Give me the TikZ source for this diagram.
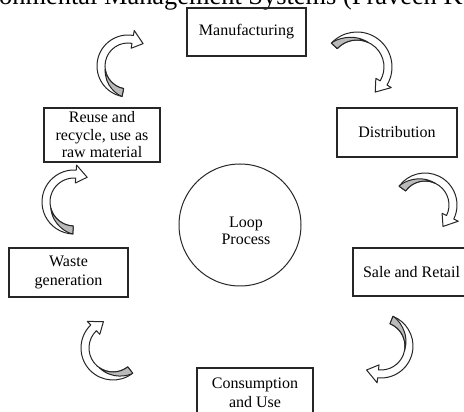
\documentclass[tikz,border=0pt]{standalone}
\usepackage{fontspec}
\setmainfont{Liberation Serif}

% curved ribbon arrow: centre, radius, tail angle, end of shaded part, head base angle, tip angle
\newcommand{\bentarrow}[6]{%
	\begin{scope}[shift={#1}]
	\pgfmathsetmacro{\rin}{#2-4}\pgfmathsetmacro{\rout}{#2+4}
	\pgfmathsetmacro{\hin}{#2-9}\pgfmathsetmacro{\hout}{#2+9}
	\pgfmathsetmacro{\shadea}{#4+0.45*(#3-#4)}
	\pgfmathsetmacro{\shadeb}{#3-0.12*(#3-#4)}
	\filldraw[ribbon] (#3:\rin pt) arc[start angle=#3, end angle=#5, radius=\rin pt] -- (#5:\hin pt) -- (#6:#2pt) -- (#5:\hout pt) -- (#5:\rout pt) arc[start angle=#5, end angle=#3, radius=\rout pt] -- cycle;
	\filldraw[ribbon, fill=black!27] (#3:\rin pt) arc[start angle=#3, end angle=#4, radius=\rin pt] .. controls (\shadea:\rout pt) and (\shadeb:\rout pt) .. (#3:\rout pt) -- cycle;
	\end{scope}}

\begin{document}
\begin{tikzpicture}[x=1pt, y=1pt,
	stage/.style={draw=black!85, line width=1.2pt, minimum width=119pt, minimum height=48pt, inner sep=2pt, align=center, font=\fontsize{16pt}{19pt}\selectfont},
	ribbon/.style={draw=black!85, fill=white, line width=1pt, line join=round}]
	\useasboundingbox (0,0) rectangle (464,412);

	\node[anchor=base west, inner sep=0pt, font=\fontsize{26.4pt}{30pt}\selectfont](title) at (-1,407) {onmental Management Systems (Praveen K};

	\node[stage](manuf) at (246.5,380) {Manufacturing};
	\node[stage, minimum width=120pt, minimum height=49pt](distrib) at (397,279.5) {Distribution};
	\node[stage, minimum width=117pt](sale) at (411.5,140) {Sale and Retail};
	\node[stage, minimum width=116pt, minimum height=50pt](consume) at (255,19) {Consumption\\and Use};
	\node[stage, minimum height=49pt](waste) at (68.5,139.5) {Waste\\generation};
	\node[stage, minimum width=116pt, minimum height=54pt, font=\fontsize{16pt}{17.5pt}\selectfont](reuse) at (102,277) {Reuse and\\recycle, use as\\raw material};

	\node[circle, draw=black!85, line width=1pt, minimum size=122pt](loop) at (240,187) {};
	\node[align=center, font=\fontsize{16pt}{17pt}\selectfont](looptext) at (246,181) {Loop\\Process};

	\bentarrow{(128,346)}{27}{259}{188}{80}{56}
	\bentarrow{(357,345)}{31}{137}{65}{-31}{-54}
	\bentarrow{(425,207)}{28}{144}{65}{-26}{-50}
	\bentarrow{(381,66)}{28}{68}{-10}{-96}{-121}
	\bentarrow{(113,64)}{28}{308}{235}{134}{110}
	\bentarrow{(74,210)}{28}{268}{195}{86}{62}
\end{tikzpicture}
\end{document}
